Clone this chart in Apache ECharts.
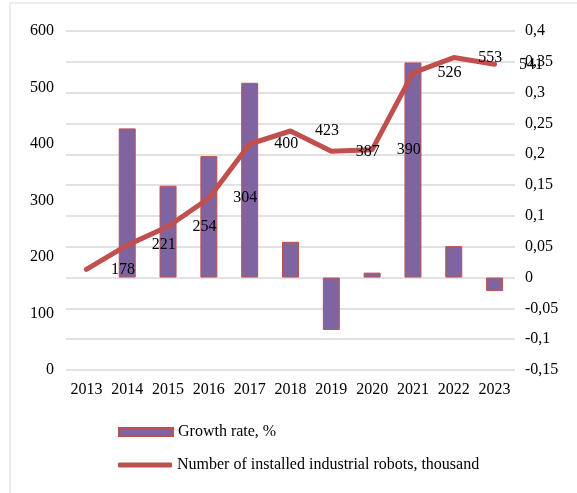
<!DOCTYPE html>
<html><head><meta charset="utf-8">
<script src="https://cdn.jsdelivr.net/npm/echarts@6/dist/echarts.min.js"></script>
<style>html,body{margin:0;padding:0;background:#fff}#c{width:577px;height:493px}</style>
</head><body><div id="c"></div>
<script>
const years = ['2013','2014','2015','2016','2017','2018','2019','2020','2021','2022','2023'];
const robots = [178,221,254,304,400,423,387,390,526,553,541];
const growth = [null,0.242,0.149,0.197,0.316,0.058,-0.085,0.008,0.349,0.051,-0.022];
const leftTicks = {min:0,max:600,interval:100};
const rightTicks = {min:-0.15,max:0.4,interval:0.05};
const barName = 'Growth rate, %';
const lineName = 'Number of installed industrial robots, thousand';
const font = 'Liberation Serif';
function fmtRight(v){
  let s = (Math.round(v*100)/100).toString();
  return s.replace('.', ',');
}
const chart = echarts.init(document.getElementById('c'));
chart.setOption({
  animation:false,
  textStyle:{fontFamily:font},
  graphic:[{type:'rect',shape:{x:10,y:3,width:700,height:700},style:{fill:'none',stroke:'#d9d9d9',lineWidth:1},silent:true}],
  grid:{left:66,right:62,top:31,bottom:123},
  legend:[
    {data:[{name:barName,icon:'rect'}],left:118,top:424,padding:0,itemWidth:54,itemHeight:8,itemGap:5,
     textStyle:{fontFamily:font,fontSize:16,color:'#000'}},
    {data:[{name:lineName,icon:'roundRect'}],left:118,top:457,padding:0,itemWidth:54,itemHeight:5,
     textStyle:{fontFamily:font,fontSize:16,color:'#000'}}
  ],
  xAxis:{type:'category',data:years,axisLine:{show:false},axisTick:{show:false},
    axisLabel:{color:'#000',fontSize:16,fontFamily:font,margin:12,interval:0}},
  yAxis:[
    {type:'value',min:leftTicks.min,max:leftTicks.max,interval:leftTicks.interval,
     splitLine:{show:false},axisLine:{show:false},axisTick:{show:false},
     axisLabel:{color:'#000',fontSize:16,fontFamily:font,margin:12}},
    {type:'value',min:rightTicks.min,max:rightTicks.max,interval:rightTicks.interval,
     splitLine:{show:true,lineStyle:{color:'#d9d9d9',width:1.5}},axisLine:{show:false},axisTick:{show:false},
     axisLabel:{color:'#000',fontSize:16,fontFamily:font,margin:10,formatter:fmtRight}}
  ],
  series:[
    {name:barName,type:'bar',yAxisIndex:1,data:growth,barWidth:17,
     itemStyle:{color:'#8064A2',borderColor:'#C0504D',borderWidth:1}},
    {name:lineName,type:'line',yAxisIndex:0,data:robots,symbol:'circle',symbolSize:1,showSymbol:true,z:5,
     lineStyle:{color:'#C0504D',width:5,cap:'round',join:'round'},itemStyle:{color:'#C0504D'},
     labelLayout:{hideOverlap:false},
     label:{show:true,position:'right',distance:24,color:'#000',fontSize:16,fontFamily:font}}
  ]
});
</script></body></html>
